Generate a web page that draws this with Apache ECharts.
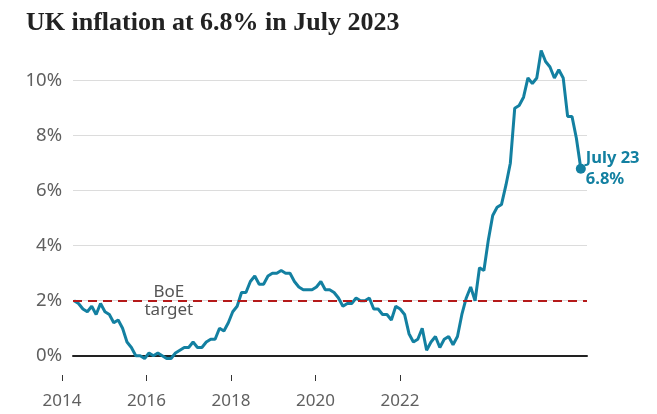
<!DOCTYPE html>
<html><head><meta charset="utf-8">
<script src="https://cdn.jsdelivr.net/npm/echarts@6/dist/echarts.min.js"></script>
<style>html,body{margin:0;padding:0;background:#fff}#c{width:657px;height:414px}</style>
</head><body><div id="c"></div>
<script>
// UK CPI annual rate, monthly, Dec 2013 .. Jul 2023
const titleText = 'UK inflation at 6.8% in July 2023';
const startMonth = 'Dec 2013';
const cpi = [
  2.0,
  1.9, 1.7, 1.6, 1.8, 1.5, 1.9, 1.6, 1.5, 1.2, 1.3, 1.0, 0.5,
  0.3, 0.0, 0.0, -0.1, 0.1, 0.0, 0.1, 0.0, -0.1, -0.1, 0.1, 0.2,
  0.3, 0.3, 0.5, 0.3, 0.3, 0.5, 0.6, 0.6, 1.0, 0.9, 1.2, 1.6,
  1.8, 2.3, 2.3, 2.7, 2.9, 2.6, 2.6, 2.9, 3.0, 3.0, 3.1, 3.0,
  3.0, 2.7, 2.5, 2.4, 2.4, 2.4, 2.5, 2.7, 2.4, 2.4, 2.3, 2.1,
  1.8, 1.9, 1.9, 2.1, 2.0, 2.0, 2.1, 1.7, 1.7, 1.5, 1.5, 1.3,
  1.8, 1.7, 1.5, 0.8, 0.5, 0.6, 1.0, 0.2, 0.5, 0.7, 0.3, 0.6,
  0.7, 0.4, 0.7, 1.5, 2.1, 2.5, 2.0, 3.2, 3.1, 4.2, 5.1, 5.4,
  5.5, 6.2, 7.0, 9.0, 9.1, 9.4, 10.1, 9.9, 10.1, 11.1, 10.7, 10.5,
  10.1, 10.4, 10.1, 8.7, 8.7, 7.9, 6.8
];
const endLabelText = 'July 23';
const yearTicks = [2014, 2016, 2018, 2020, 2022];
const yTicks = [0, 2, 4, 6, 8, 10, 12];
const targetRate = 2;
const targetLabel = 'BoE\ntarget';
const targetLabelMonthIndex = 21.5;

const teal = '#1380A1';
const seriesData = cpi.map((v, i) => [i, v]);

const chart = echarts.init(document.getElementById('c'));
chart.setOption({
  animation: false,
  backgroundColor: '#fff',
  title: {
    text: titleText, left: 21, top: 5,
    textStyle: { fontFamily: 'Liberation Serif', fontSize: 26, fontWeight: 'bold', color: '#222' }
  },
  grid: [
    { left: 73, width: 514, top: 25.7, height: 330, containLabel: false },
    { left: 62, width: 338, top: 370, height: 5, containLabel: false }
  ],
  xAxis: [
    {
      type: 'value', gridIndex: 0, min: -0.25, max: 116.4,
      axisLine: { show: true, onZero: true, lineStyle: { color: '#222', width: 2 } },
      axisTick: { show: false }, axisLabel: { show: false }, splitLine: { show: false }
    },
    {
      type: 'value', gridIndex: 1, min: yearTicks[0], max: yearTicks[yearTicks.length - 1], interval: 2,
      axisLine: { show: false },
      axisTick: { show: true, length: 6, lineStyle: { color: '#333', width: 1 } },
      axisLabel: { show: true, margin: 18, color: '#606060', fontSize: 17, fontFamily: 'Noto Sans', formatter: v => String(v) },
      splitLine: { show: false }
    }
  ],
  yAxis: [
    {
      type: 'value', gridIndex: 0, min: yTicks[0], max: yTicks[yTicks.length - 1], interval: 2,
      axisLine: { show: false }, axisTick: { show: false },
      axisLabel: { margin: 11, color: '#606060', fontSize: 18.5, fontFamily: 'Noto Sans', showMaxLabel: false, formatter: v => v + '%' },
      splitLine: { show: true, showMinLine: false, showMaxLine: false, lineStyle: { color: '#dcdcdc', width: 1 } }
    },
    { type: 'value', gridIndex: 1, show: false }
  ],
  series: [{
    type: 'line', xAxisIndex: 0, yAxisIndex: 0, data: seriesData,
    clip: false,
    lineStyle: { color: teal, width: 3 },
    itemStyle: { color: teal },
    showSymbol: true, showAllSymbol: true, symbol: 'circle',
    symbolSize: (val, p) => (p.dataIndex === cpi.length - 1 ? 10 : 0),
    endLabel: {
      show: true, distance: 5, color: teal, fontSize: 16.5, fontWeight: 'bold', fontFamily: 'Noto Sans',
      lineHeight: 21, align: 'left',
      formatter: p => endLabelText + '\n' + p.value[1] + '%'
    },
    markLine: {
      silent: true, symbol: ['none', 'none'], label: { show: false },
      data: [{ yAxis: targetRate, lineStyle: { color: '#b51a1a', width: 2, type: [9, 6] } }]
    },
    markPoint: {
      silent: true, symbol: 'circle', symbolSize: 0,
      data: [{ coord: [targetLabelMonthIndex, targetRate],
        label: { show: true, position: 'inside', formatter: targetLabel, color: '#555', fontSize: 17,
          fontFamily: 'Noto Sans', lineHeight: 18, textBorderColor: '#fff', textBorderWidth: 2 } }]
    }
  }]
});
</script>
</body></html>
